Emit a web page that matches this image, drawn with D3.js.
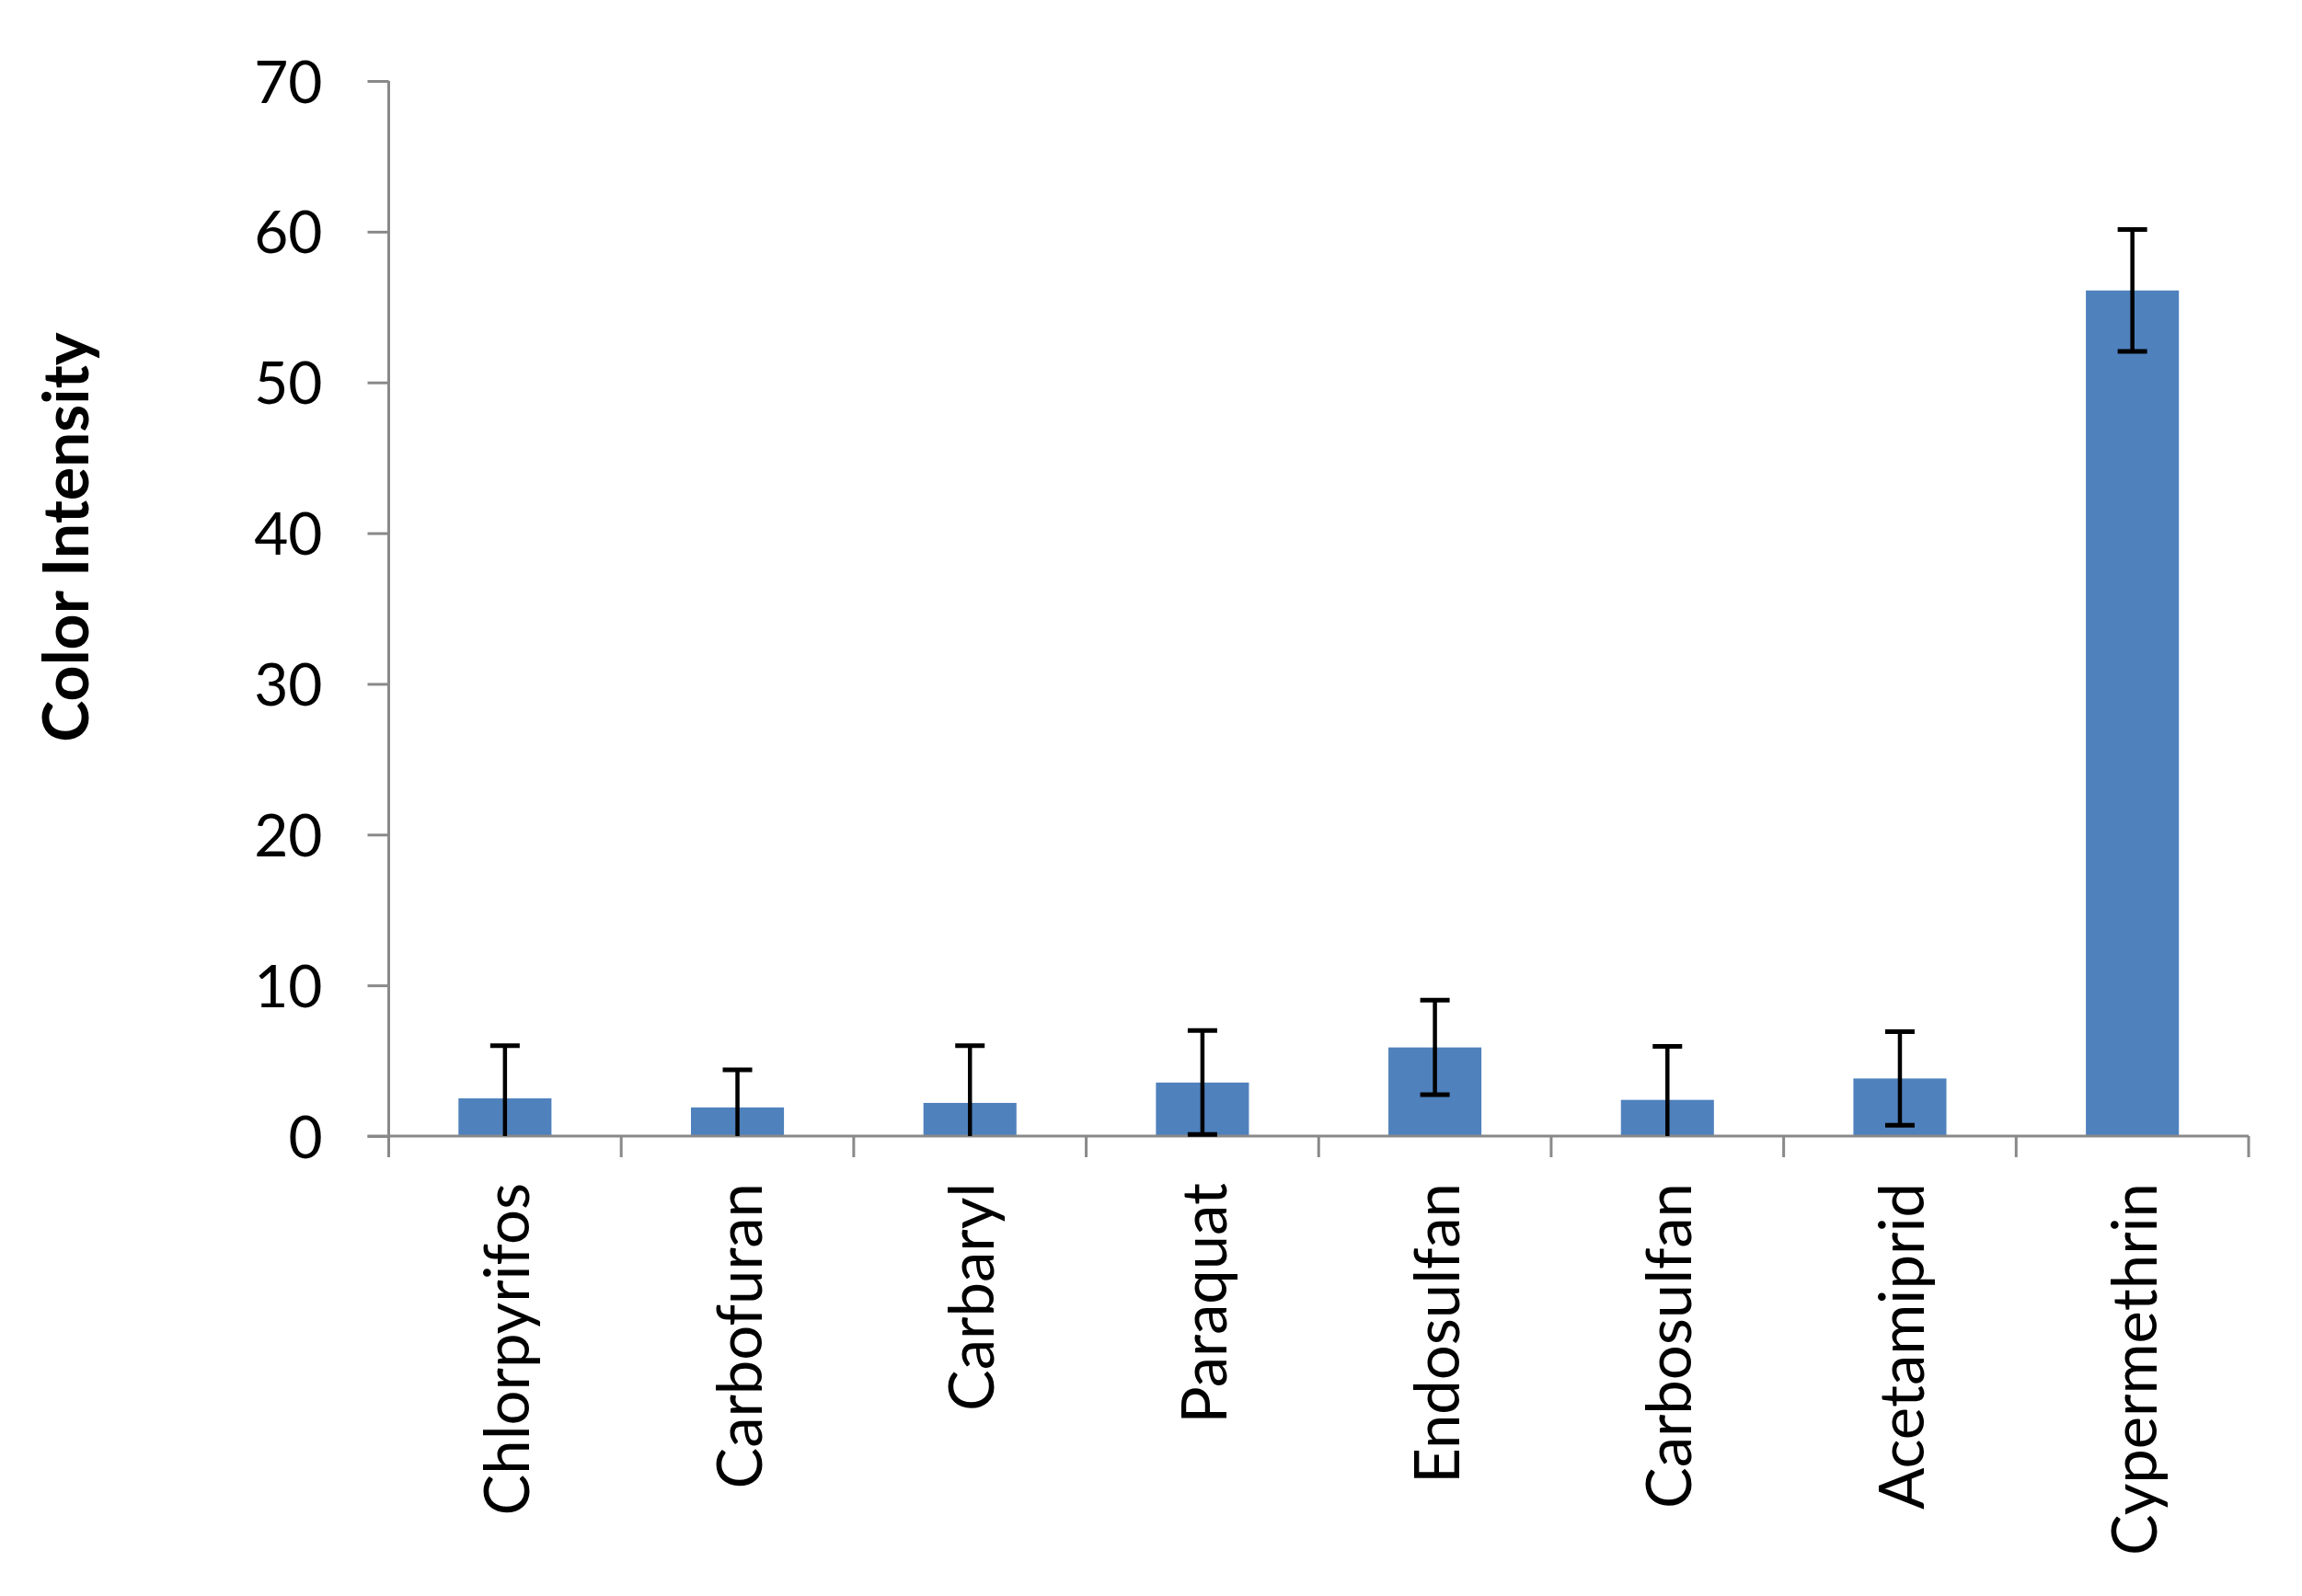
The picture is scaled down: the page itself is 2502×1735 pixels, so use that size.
<!DOCTYPE html>
<html>
<head>
<meta charset="utf-8">
<script src="https://cdn.jsdelivr.net/npm/d3@7/dist/d3.min.js"></script>
<style>
  html, body { margin: 0; padding: 0; background: #ffffff; }
  svg { display: block; }
</style>
</head>
<body>
<svg id="chart" width="2502" height="1735"></svg>
<script>
const categories = ["Chlorpyrifos", "Carbofuran", "Carbaryl", "Paraquat", "Endosulfan", "Carbosulfan", "Acetamiprid", "Cypermethrin"];
const values = [2.5, 1.9, 2.2, 3.55, 5.88, 2.4, 3.82, 56.1];
const errors = [3.5, 2.5, 3.8, 3.45, 3.13, 3.55, 3.1, 4.05];
const yTicks = [0, 10, 20, 30, 40, 50, 60, 70];
const yTitle = "Color Intensity";

(function () {
const data = categories.map((c, i) => ({ name: c, value: values[i], err: errors[i] }));

const svg = d3.select("#chart");
const FONT = "Lato, 'Open Sans', sans-serif";
const axisColor = "#898989";
const barColor = "#4F81BD";

const mLeft = 422.5, mRight = 2444, mTop = 88, mBottom = 1235;

const x = d3.scaleBand().domain(categories).range([mLeft, mRight]).paddingInner(0.6).paddingOuter(0.3);
const y = d3.scaleLinear().domain([0, 70]).range([mBottom, mTop]);

// Bars
svg.append("g").selectAll("rect").data(data).join("rect")
  .attr("x", d => x(d.name))
  .attr("width", x.bandwidth())
  .attr("y", d => y(d.value))
  .attr("height", d => y(0) - y(d.value))
  .attr("fill", barColor);

// Y axis
const yAxis = svg.append("g")
  .attr("transform", `translate(${mLeft},0)`)
  .call(d3.axisLeft(y).tickValues(yTicks).tickSize(23).tickSizeOuter(0).tickPadding(49));
yAxis.select(".domain").remove();
yAxis.append("line").attr("x1", 0).attr("x2", 0).attr("y1", mTop).attr("y2", mBottom + 23)
  .attr("stroke", axisColor).attr("stroke-width", 3);
yAxis.selectAll(".tick line").attr("stroke", axisColor).attr("stroke-width", 3);
yAxis.selectAll(".tick text")
  .attr("fill", "#000").attr("font-family", FONT).attr("font-size", 64).attr("dy", "0.36em");

// X axis
const xAxis = svg.append("g")
  .attr("transform", `translate(0,${mBottom})`)
  .call(d3.axisBottom(x).tickSize(0).tickSizeOuter(0));
xAxis.select(".domain").remove();
xAxis.append("line").attr("x1", mLeft - 23).attr("x2", mRight).attr("y1", 0).attr("y2", 0)
  .attr("stroke", axisColor).attr("stroke-width", 3);
const bounds = d3.range(categories.length + 1).map(i => mLeft + i * x.step());
xAxis.selectAll("line.bound").data(bounds).join("line").attr("class", "bound")
  .attr("x1", d => d).attr("x2", d => d).attr("y1", 0).attr("y2", 23)
  .attr("stroke", axisColor).attr("stroke-width", 3);
xAxis.selectAll(".tick text")
  .attr("fill", "#000").attr("font-family", FONT).attr("font-size", 67)
  .attr("x", 0).attr("y", 0).attr("dy", 0)
  .attr("text-anchor", "end")
  .attr("transform", "translate(26,51) rotate(-90)");

// Error bars
const eb = svg.append("g");
const cap = 16;
data.forEach(d => {
  const cx = x(d.name) + x.bandwidth() / 2;
  const hi = d.value + d.err;
  const lo = Math.max(0, d.value - d.err);
  eb.append("line").attr("x1", cx).attr("x2", cx).attr("y1", y(hi)).attr("y2", y(lo))
    .attr("stroke", "#000").attr("stroke-width", 4.5);
  eb.append("line").attr("x1", cx - cap).attr("x2", cx + cap).attr("y1", y(hi)).attr("y2", y(hi))
    .attr("stroke", "#000").attr("stroke-width", 5);
  if (d.value - d.err > 0) {
    eb.append("line").attr("x1", cx - cap).attr("x2", cx + cap).attr("y1", y(lo)).attr("y2", y(lo))
      .attr("stroke", "#000").attr("stroke-width", 5);
  }
});

// Y title
svg.append("text")
  .attr("transform", "translate(96,584) rotate(-90)")
  .attr("text-anchor", "middle")
  .attr("font-family", FONT).attr("font-weight", "bold").attr("font-size", 68)
  .attr("fill", "#000")
  .text(yTitle);
})();
</script>
</body>
</html>
